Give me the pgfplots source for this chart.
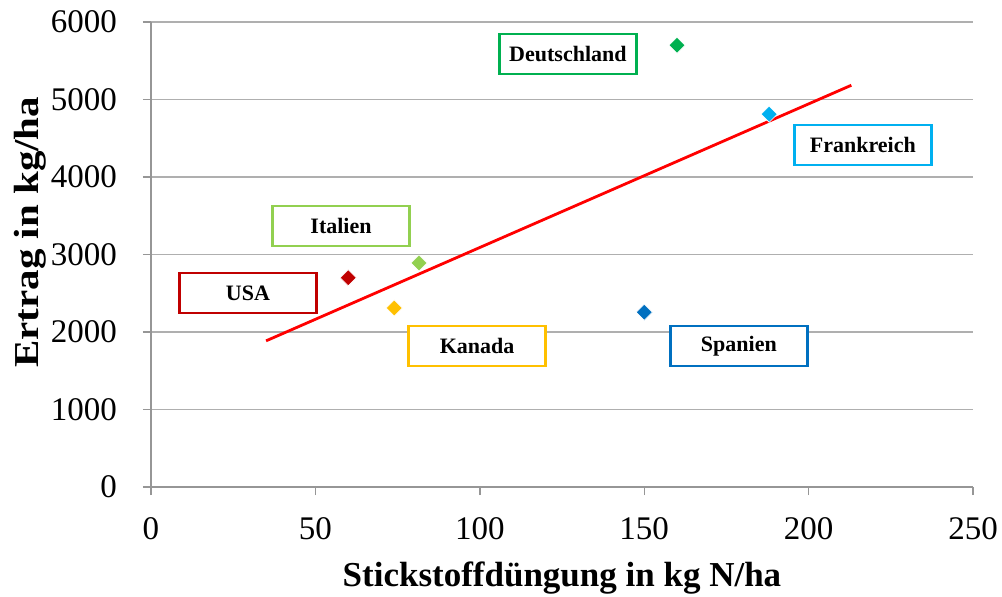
\documentclass[border=0pt]{standalone}
\usepackage{pgfplots}
\pgfplotsset{compat=1.18}
\usepackage{fontspec}
\setmainfont{Liberation Serif}
\definecolor{cusa}{RGB}{192,0,0}
\definecolor{ckan}{RGB}{255,192,0}
\definecolor{cita}{RGB}{146,208,80}
\definecolor{cspa}{RGB}{0,112,192}
\definecolor{cdeu}{RGB}{0,176,80}
\definecolor{cfra}{RGB}{0,176,240}
\definecolor{axgray}{RGB}{150,150,150}
\definecolor{grgray}{RGB}{175,175,175}
\begin{document}
\begin{tikzpicture}
\begin{axis}[
  at={(0,0)}, anchor=south west,
  scale only axis, width=411pt, height=232.5pt,
  xmin=0, xmax=250, ymin=0, ymax=6000,
  xtick={0,50,...,250}, ytick={0,1000,...,6000},
  axis x line*=bottom, axis y line*=left,
  axis line style={axgray, line width=0.7pt},
  ymajorgrids, grid style={grgray, line width=0.7pt},
  tick style={axgray, line width=0.7pt},
  tick align=outside, major tick length=4pt,
  /pgf/number format/1000 sep={},
  /pgf/number format/assume math mode=true,
  ticklabel style={font=\fontsize{16.5}{16.5}\selectfont},
  yticklabel style={xshift=-9.5pt},
  xticklabel style={yshift=-7.5pt},
  xlabel={Stickstoffdüngung in kg N/ha},
  ylabel={\scalebox{1.17}[1]{Ertrag in kg/ha}},
  label style={font=\fontsize{17.5}{17.5}\selectfont\bfseries},
  xlabel style={at={(axis description cs:0.5,-0.1957)}, anchor=center},
  ylabel style={at={(axis description cs:-0.1472,0.548)}, anchor=center},
  clip=false,
]
\addplot[red, line width=1.4pt] coordinates {(35,1886) (213,5184)};
\pgfplotsset{dm/.style={only marks, mark=square*, mark size=2.85pt, mark options={rotate=45, draw=white, line width=0.3pt, fill=#1}}}
\addplot[dm=cusa] coordinates {(60,2700)};
\addplot[dm=ckan] coordinates {(74,2310)};
\addplot[dm=cita] coordinates {(81.5,2890)};
\addplot[dm=cspa] coordinates {(150,2255)};
\addplot[dm=cdeu] coordinates {(160,5700)};
\addplot[dm=cfra] coordinates {(188,4810)};
\tikzset{lbl/.style={line width=1.4pt, fill=white, minimum width=68.5pt, minimum height=20pt, inner sep=0pt, font=\fontsize{11}{11}\selectfont\bfseries}}
\node[lbl, draw=cdeu] at (axis cs:126.8,5587) {Deutschland};
\node[lbl, draw=cfra] at (axis cs:216.5,4413) {Frankreich};
\node[lbl, draw=cita] at (axis cs:57.8,3368) {Italien};
\node[lbl, draw=cusa] at (axis cs:29.5,2503) {USA};
\node[lbl, draw=ckan] at (axis cs:99.2,1819) {Kanada};
\node[lbl, draw=cspa] at (axis cs:178.8,1819) {Spanien};
\end{axis}
\pgfresetboundingbox
\path[use as bounding box] (-75.5pt,-54.5pt) rectangle (425.5pt,243.5pt);
\end{tikzpicture}
\end{document}
